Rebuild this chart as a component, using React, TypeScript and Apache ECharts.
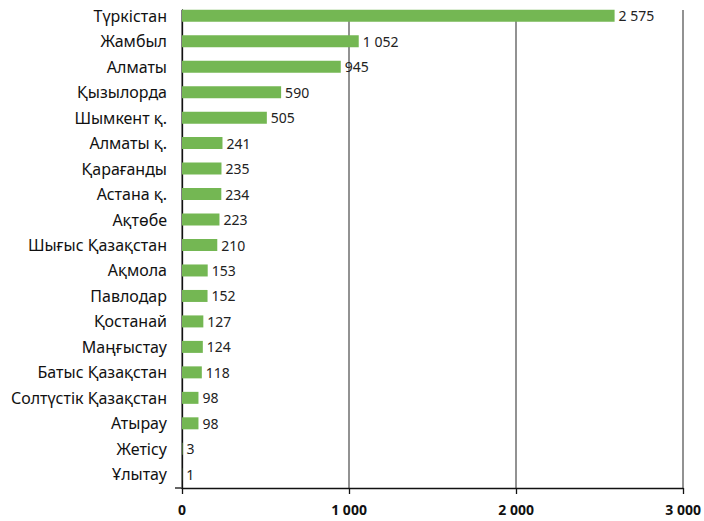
import React, { useEffect, useRef } from "react";
import * as echarts from "echarts";

const categories = [
  "Түркістан",
  "Жамбыл",
  "Алматы",
  "Қызылорда",
  "Шымкент қ.",
  "Алматы қ.",
  "Қарағанды",
  "Астана қ.",
  "Ақтөбе",
  "Шығыс Қазақстан",
  "Ақмола",
  "Павлодар",
  "Қостанай",
  "Маңғыстау",
  "Батыс Қазақстан",
  "Солтүстік Қазақстан",
  "Атырау",
  "Жетісу",
  "Ұлытау",
];
const values = [2575, 1052, 945, 590, 505, 241, 235, 234, 223, 210, 153, 152, 127, 124, 118, 98, 98, 3, 1];
const xTicks = [0, 1000, 2000, 3000];

const FONT = "'Noto Sans', sans-serif";
const fmt = (v: number) => {
  const s = String(Math.round(v));
  return s.replace(/\B(?=(\d{3})+(?!\d))/g, " ");
};

export default function App() {
  const ref = useRef<HTMLDivElement>(null);
  useEffect(() => {
    if (!ref.current) return;
    const chart = echarts.init(ref.current, undefined, { renderer: "svg" });
    const cats = [...categories].reverse();
    const vals = [...values].reverse();
    chart.setOption({
      animation: false,
      textStyle: { fontFamily: FONT },
      grid: [
        { left: 182, right: 18, top: 3, bottom: 34 },
        { left: 182, right: 18, top: 10, bottom: 33 },
      ],
      xAxis: [
        {
          gridIndex: 0,
          type: "value",
          min: xTicks[0],
          max: xTicks[xTicks.length - 1],
          interval: 1000,
          show: false,
        },
        {
          gridIndex: 1,
          type: "value",
          min: xTicks[0],
          max: xTicks[xTicks.length - 1],
          interval: 1000,
          axisLine: { show: true, lineStyle: { color: "#111", width: 1.3 } },
          axisTick: { show: true, length: 6, lineStyle: { color: "#111", width: 1.3 } },
          splitLine: { show: true, lineStyle: { color: "#6e6e6e", width: 1.5 } },
          axisLabel: {
            margin: 14,
            fontFamily: FONT,
            fontSize: 14,
            fontWeight: "bold",
            color: "#111",
            formatter: (v: number) => fmt(v),
          },
        },
      ],
      yAxis: [
        {
          gridIndex: 0,
          type: "category",
          data: cats,
          axisLine: { show: false },
          axisTick: { show: false },
          axisLabel: {
            margin: 15,
            fontFamily: FONT,
            fontSize: 16,
            color: "#111",
          },
        },
        {
          gridIndex: 1,
          type: "value",
          min: 0,
          max: 1,
          axisLine: { show: true, lineStyle: { color: "#111", width: 1.3 } },
          axisTick: { show: false },
          axisLabel: { show: false },
          splitLine: { show: false },
        },
      ],
      graphic: [
        {
          type: "line",
          shape: { x1: 175, y1: 488, x2: 182, y2: 488 },
          style: { stroke: "#111", lineWidth: 1.3 },
        },
      ],
      series: [
        {
          type: "bar",
          xAxisIndex: 0,
          yAxisIndex: 0,
          data: vals,
          barWidth: 12,
          itemStyle: { color: "#74b753" },
          label: {
            show: true,
            position: "right",
            distance: 4,
            fontFamily: FONT,
            fontSize: 14,
            color: "#222",
            formatter: (p: any) => fmt(p.value),
          },
        },
      ],
    });
    return () => chart.dispose();
  }, []);
  return <div ref={ref} style={{ width: 704, height: 521, position: "absolute", left: 0, top: 0 }} />;
}
